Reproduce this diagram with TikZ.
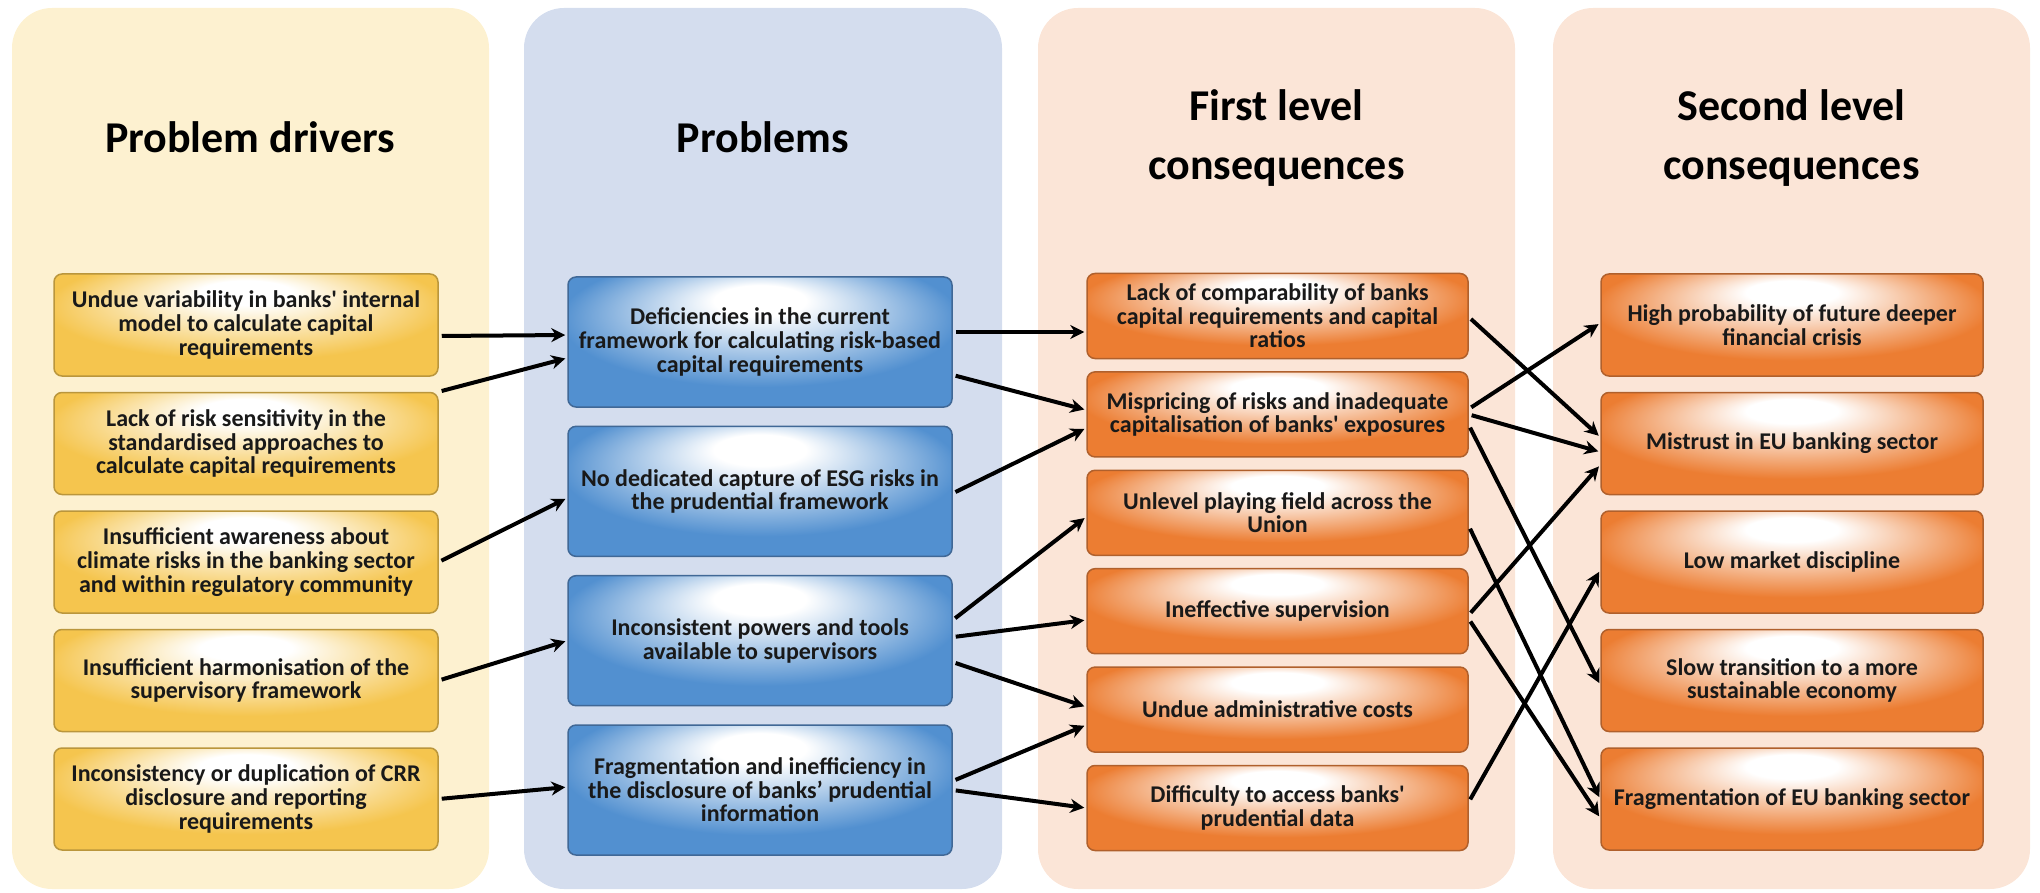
\documentclass[tikz,border=0pt]{standalone}
\usepackage{fontspec}
\setmainfont{Carlito}
\usetikzlibrary{arrows.meta}

\definecolor{panelyellow}{RGB}{253,241,208}
\definecolor{panelblue}{RGB}{212,221,238}
\definecolor{panelpeach}{RGB}{251,229,215}
\definecolor{boxyellow}{RGB}{245,197,78}
\definecolor{boxblue}{RGB}{82,144,208}
\definecolor{boxorange}{RGB}{236,125,50}
\definecolor{edgeyellow}{RGB}{186,150,60}
\definecolor{edgeblue}{RGB}{64,104,150}
\definecolor{edgeorange}{RGB}{176,96,44}
\definecolor{textdark}{RGB}{25,25,25}

\pgfdeclareradialshading{yellowglow}{\pgfpoint{0bp}{18bp}}{color(0bp)=(white); color(6bp)=(white); color(26bp)=(boxyellow); color(50bp)=(boxyellow)}
\pgfdeclareradialshading{blueglow}{\pgfpoint{0bp}{18bp}}{color(0bp)=(white); color(6bp)=(white); color(26bp)=(boxblue); color(50bp)=(boxblue)}
\pgfdeclareradialshading{orangeglow}{\pgfpoint{0bp}{18bp}}{color(0bp)=(white); color(6bp)=(white); color(26bp)=(boxorange); color(50bp)=(boxorange)}

\tikzstyle{box_node} = [rectangle, rounded corners=4pt, line width=0.75pt, align=center, inner sep=2pt, text=textdark, font=\fontsize{12pt}{11.8pt}\selectfont\bfseries]
\tikzstyle{driver_node} = [box_node, draw=edgeyellow, shade, shading=yellowglow, minimum width=192pt, minimum height=51pt]
\tikzstyle{problem_node} = [box_node, draw=edgeblue, shade, shading=blueglow, minimum width=192pt, minimum height=65pt]
\tikzstyle{first_node} = [box_node, draw=edgeorange, shade, shading=orangeglow, minimum width=190.5pt, minimum height=42.5pt]
\tikzstyle{second_node} = [box_node, draw=edgeorange, shade, shading=orangeglow, minimum width=191pt, minimum height=51pt]
\tikzstyle{title_text} = [align=center, anchor=base, font=\fontsize{22pt}{29.5pt}\selectfont\bfseries]
\tikzstyle{arrow} = [line width=2pt, ->, >={Stealth[length=7pt, width=7pt]}, shorten <=1.5pt, shorten >=1pt]

\begin{document}
\begin{tikzpicture}[x=0.5pt, y=-0.5pt]
    \useasboundingbox (0,0) rectangle (2040,893);

    % column panels
    \fill [panelyellow, rounded corners=20pt] (12,8) rectangle (489,889);
    \fill [panelblue, rounded corners=20pt] (524,8) rectangle (1002,889);
    \fill [panelpeach, rounded corners=20pt] (1038,8) rectangle (1515,889);
    \fill [panelpeach, rounded corners=20pt] (1553,8) rectangle (2030,889);

    \node (t1) [title_text] at (250,153) {Problem drivers};
    \node (t2) [title_text] at (763,153) {Problems};
    \node (t3) [title_text] at (1276.5,180) {First level\\consequences};
    \node (t4) [title_text] at (1791.5,180) {Second level\\consequences};

    % problem drivers
    \node (d1) [driver_node] at (246,325) {Undue variability in banks\textquotesingle{} internal\\model to calculate capital\\requirements};
    \node (d2) [driver_node, node distance=59.25pt, below of=d1] {Lack of risk sensitivity in the\\standardised approaches to\\calculate capital requirements};
    \node (d3) [driver_node, node distance=59.25pt, below of=d2] {Insufficient awareness about\\climate risks in the banking sector\\and within regulatory community};
    \node (d4) [driver_node, node distance=59.25pt, below of=d3] {Insufficient harmonisation of the\\supervisory framework};
    \node (d5) [driver_node, node distance=59.25pt, below of=d4] {Inconsistency or duplication of CRR\\disclosure and reporting\\requirements};

    % problems
    \node (p1) [problem_node] at (760,342) {Deficiencies in the current\\framework for calculating risk-based\\capital requirements};
    \node (p2) [problem_node, node distance=74.67pt, below of=p1] {No dedicated capture of ESG risks in\\the prudential framework};
    \node (p3) [problem_node, node distance=74.67pt, below of=p2] {Inconsistent powers and tools\\available to supervisors};
    \node (p4) [problem_node, node distance=74.67pt, below of=p3] {Fragmentation and inefficiency in\\the disclosure of banks’ prudential\\information};

    % first level consequences
    \node (c1) [first_node] at (1277.5,316) {Lack of comparability of banks\\capital requirements and capital\\ratios};
    \node (c2) [first_node, node distance=49.2pt, below of=c1] {Mispricing of risks and inadequate\\capitalisation of banks\textquotesingle{} exposures};
    \node (c3) [first_node, node distance=49.2pt, below of=c2] {Unlevel playing field across the\\Union};
    \node (c4) [first_node, node distance=49.2pt, below of=c3] {Ineffective supervision};
    \node (c5) [first_node, node distance=49.2pt, below of=c4] {Undue administrative costs};
    \node (c6) [first_node, node distance=49.2pt, below of=c5] {Difficulty to access banks\textquotesingle\\prudential data};

    % second level consequences
    \node (s1) [second_node] at (1792,325) {High probability of future deeper\\financial crisis};
    \node (s2) [second_node, node distance=59.25pt, below of=s1] {Mistrust in EU banking sector};
    \node (s3) [second_node, node distance=59.25pt, below of=s2] {Low market discipline};
    \node (s4) [second_node, node distance=59.25pt, below of=s3] {Slow transition to a more\\sustainable economy};
    \node (s5) [second_node, node distance=59.25pt, below of=s4] {Fragmentation of EU banking sector};

    % drivers -> problems
    \draw [arrow] ([yshift=-5.5pt]d1.east) -- ([yshift=3.5pt]p1.west);
    \draw [arrow] (d2.north east) -- ([yshift=-8pt]p1.west);
    \draw [arrow] (d3.east) -- ([yshift=-3.3pt]p2.west);
    \draw [arrow] (d4.east) -- (p3.west);
    \draw [arrow] (d5.east) -- ([yshift=1.5pt]p4.west);

    % problems -> first level
    \draw [arrow] ([yshift=5pt]p1.east) -- ([yshift=-8pt]c1.west);
    \draw [arrow] ([yshift=-16.5pt]p1.east) -- ([yshift=2.2pt]c2.west);
    \draw [arrow] ([yshift=-1pt]p2.east) -- ([yshift=-6.8pt]c2.west);
    \draw [arrow] ([yshift=10.3pt]p3.east) -- ([yshift=-2pt]c3.west);
    \draw [arrow] ([yshift=1.8pt]p3.east) -- ([yshift=-4.4pt]c4.west);
    \draw [arrow] ([yshift=-10.7pt]p3.east) -- ([yshift=1.3pt]c5.west);
    \draw [arrow] ([yshift=4.5pt]p4.east) -- ([yshift=-7.7pt]c5.west);
    \draw [arrow] (p4.east) -- (c6.west);

    % first level -> second level
    \draw [arrow] ([yshift=-0.5pt]c1.east) -- ([yshift=3.2pt]s2.west);
    \draw [arrow] ([yshift=2.7pt]c2.east) -- ([yshift=1pt]s1.west);
    \draw [arrow] (c2.east) -- ([yshift=-4.2pt]s2.west);
    \draw [arrow] ([yshift=-5.3pt]c2.east) -- ([yshift=-2.2pt]s4.west);
    \draw [arrow] ([yshift=-6.6pt]c3.east) -- (s5.west);
    \draw [arrow] ([yshift=-1.9pt]c4.east) -- ([yshift=-10.7pt]s2.west);
    \draw [arrow] ([yshift=-3.9pt]c4.east) -- ([yshift=-9.5pt]s5.west);
    \draw [arrow] ([yshift=3pt]c6.east) -- ([yshift=-4pt]s3.west);
\end{tikzpicture}
\end{document}
